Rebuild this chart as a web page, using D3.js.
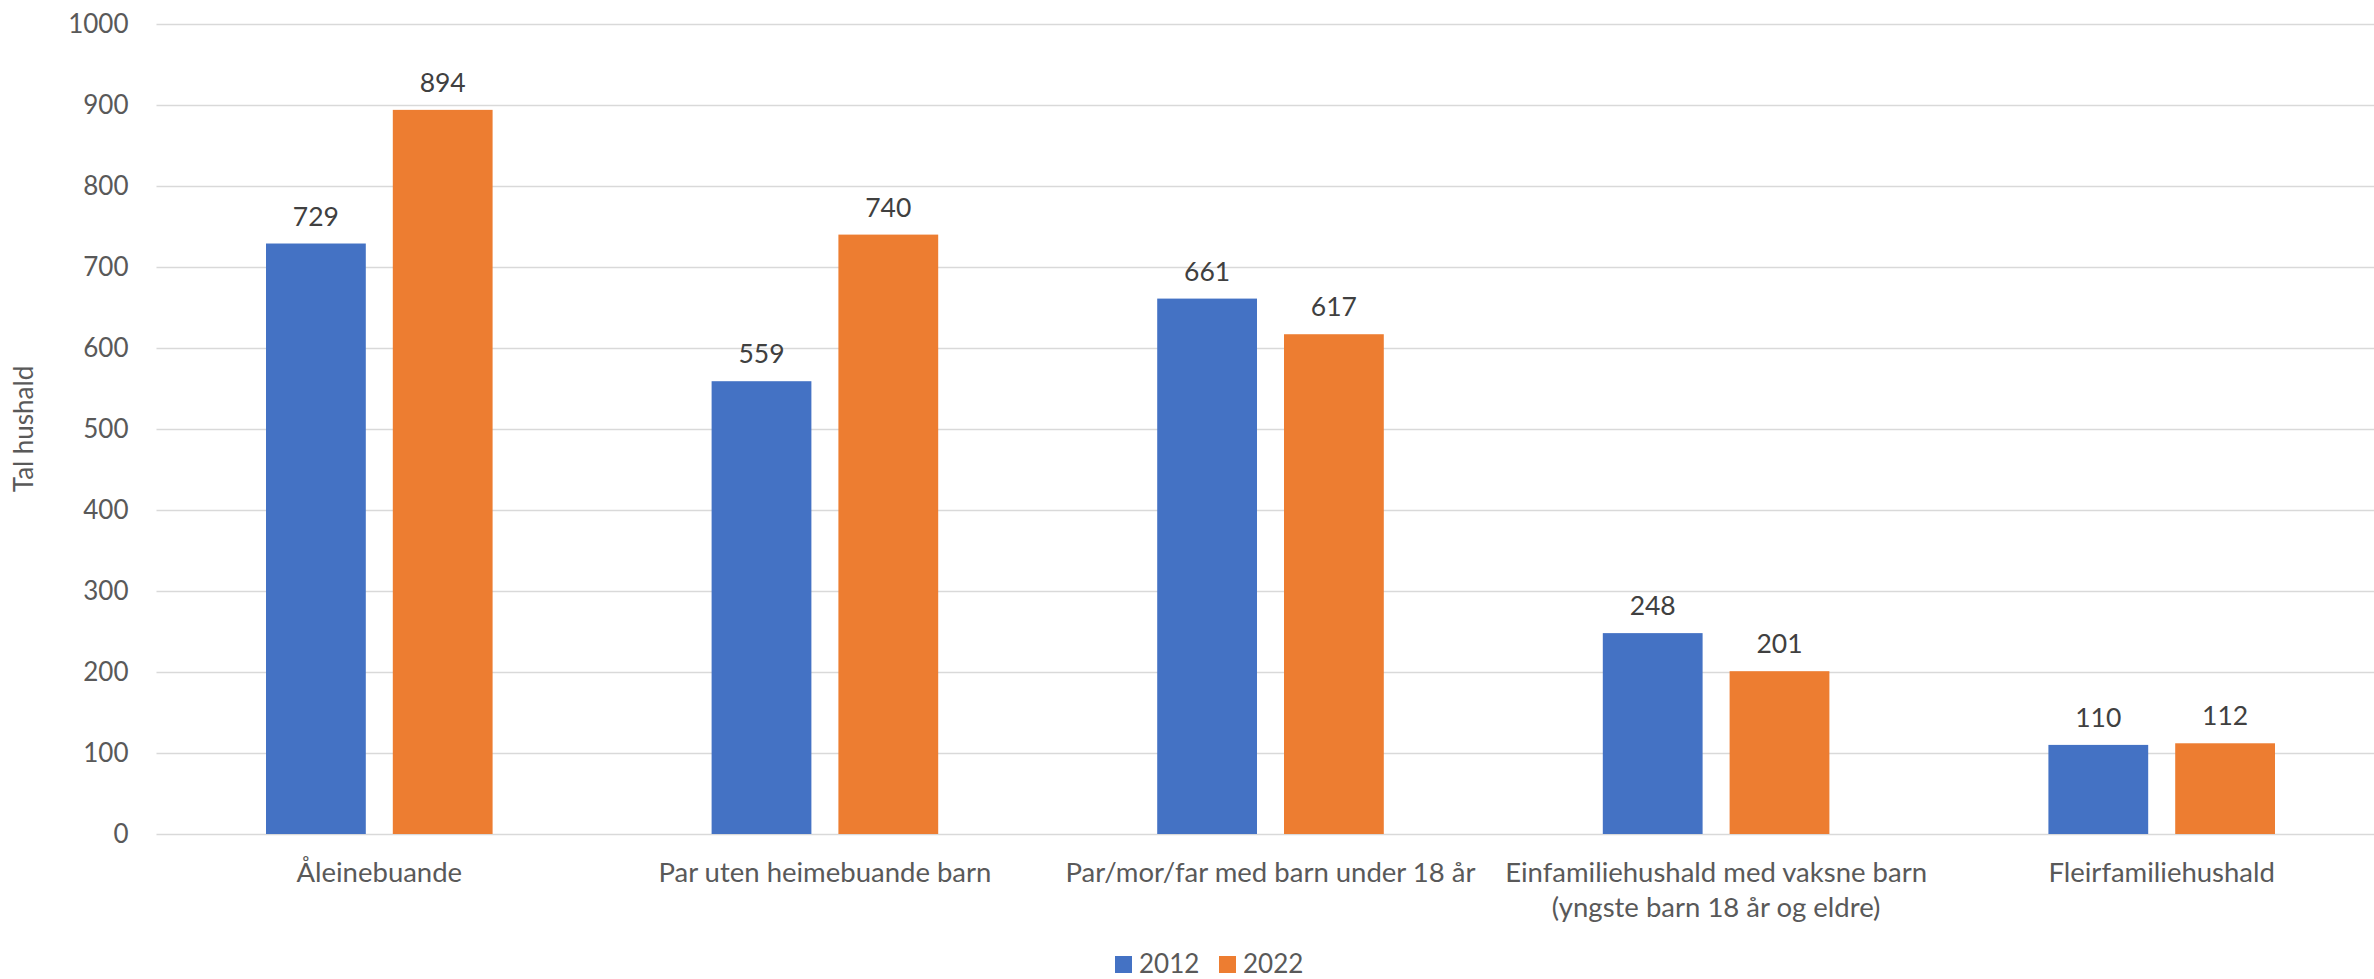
<!DOCTYPE html>
<html>
<head>
<meta charset="utf-8">
<script src="https://cdn.jsdelivr.net/npm/d3@7"></script>
<style>
  html, body { margin: 0; padding: 0; background: #ffffff; }
  svg { display: block; font-family: Lato, "Open Sans", sans-serif; }
</style>
</head>
<body>
<svg id="chart" width="2374" height="979"></svg>
<script>
// ---- Data ----
const categories = [
  "Åleinebuande",
  "Par uten heimebuande barn",
  "Par/mor/far med barn under 18 år",
  "Einfamiliehushald med vaksne barn\n(yngste barn 18 år og eldre)",
  "Fleirfamiliehushald"
];
const seriesNames = ["2012", "2022"];
const values2012 = [729, 559, 661, 248, 110];
const values2022 = [894, 740, 617, 201, 112];
const yTicks = [0, 100, 200, 300, 400, 500, 600, 700, 800, 900, 1000];
const yTitle = "Tal hushald";

const colors = { "2012": "#4472C4", "2022": "#ED7D31" };

// ---- Layout ----
const W = 2374, H = 979;
const plotLeft = 156.5, plotRight = 2384.5, plotTop = 24, plotBottom = 834;
const fontSize = 26;
const catFontSize = 27.5;

const svg = d3.select("#chart");

const x0 = d3.scaleBand().domain(categories).range([plotLeft, plotRight]).padding(0);
const groupW = x0.bandwidth() * 0.5085;
const x1 = d3.scaleBand().domain(seriesNames).range([0, groupW]).paddingInner(0.213).paddingOuter(0);
const y = d3.scaleLinear().domain([0, 1000]).range([plotBottom, plotTop]);

// gridlines
const yAxis = d3.axisLeft(y).tickValues(yTicks).tickFormat(d3.format("d"))
  .tickSize(-(W - plotLeft)).tickPadding(28);
const gAxis = svg.append("g").attr("transform", `translate(${plotLeft},0)`).call(yAxis);
gAxis.select(".domain").remove();
gAxis.selectAll(".tick line").attr("stroke", "#D9D9D9").attr("stroke-width", 1.5);
gAxis.selectAll(".tick text")
  .attr("fill", "#595959")
  .style("font-size", fontSize + "px")
  .style("font-family", "Lato, 'Open Sans', sans-serif");

// data rows
const rows = categories.map((c, i) => ({ cat: c, vals: [
  { key: "2012", value: values2012[i] },
  { key: "2022", value: values2022[i] }
]}));

const groups = svg.append("g").selectAll("g").data(rows).join("g")
  .attr("transform", d => `translate(${x0(d.cat) + (x0.bandwidth() - groupW) / 2},0)`);

groups.selectAll("rect").data(d => d.vals).join("rect")
  .attr("x", d => x1(d.key))
  .attr("width", x1.bandwidth())
  .attr("y", d => y(d.value))
  .attr("height", d => y(0) - y(d.value))
  .attr("fill", d => colors[d.key]);

groups.selectAll("text.val").data(d => d.vals).join("text")
  .attr("class", "val")
  .attr("x", d => x1(d.key) + x1.bandwidth() / 2)
  .attr("y", d => y(d.value) - 18)
  .attr("text-anchor", "middle")
  .attr("fill", "#404040")
  .style("font-size", (fontSize + 0.5) + "px")
  .text(d => d.value);

// category labels
const catG = svg.append("g");
categories.forEach(c => {
  const lines = c.split("\n");
  const t = catG.append("text")
    .attr("x", x0(c) + x0.bandwidth() / 2)
    .attr("y", 882)
    .attr("text-anchor", "middle")
    .attr("fill", "#595959")
    .style("font-size", catFontSize + "px");
  lines.forEach((l, j) => {
    t.append("tspan").attr("x", x0(c) + x0.bandwidth() / 2).attr("dy", j === 0 ? 0 : 35).text(l);
  });
});

// y-axis title
svg.append("text")
  .attr("transform", `translate(33,${(plotTop + plotBottom) / 2}) rotate(-90)`)
  .attr("text-anchor", "middle")
  .attr("fill", "#595959")
  .style("font-size", fontSize + "px")
  .text(yTitle);

// legend
const legendX = [1115, 1219];
const leg = svg.append("g").selectAll("g").data(seriesNames).join("g")
  .attr("transform", (d, i) => `translate(${legendX[i]},956)`);
leg.append("rect").attr("width", 17).attr("height", 17).attr("fill", d => colors[d]);
leg.append("text").attr("x", 24).attr("y", 17)
  .attr("fill", "#595959")
  .style("font-size", fontSize + "px")
  .text(d => d);
</script>
</body>
</html>
